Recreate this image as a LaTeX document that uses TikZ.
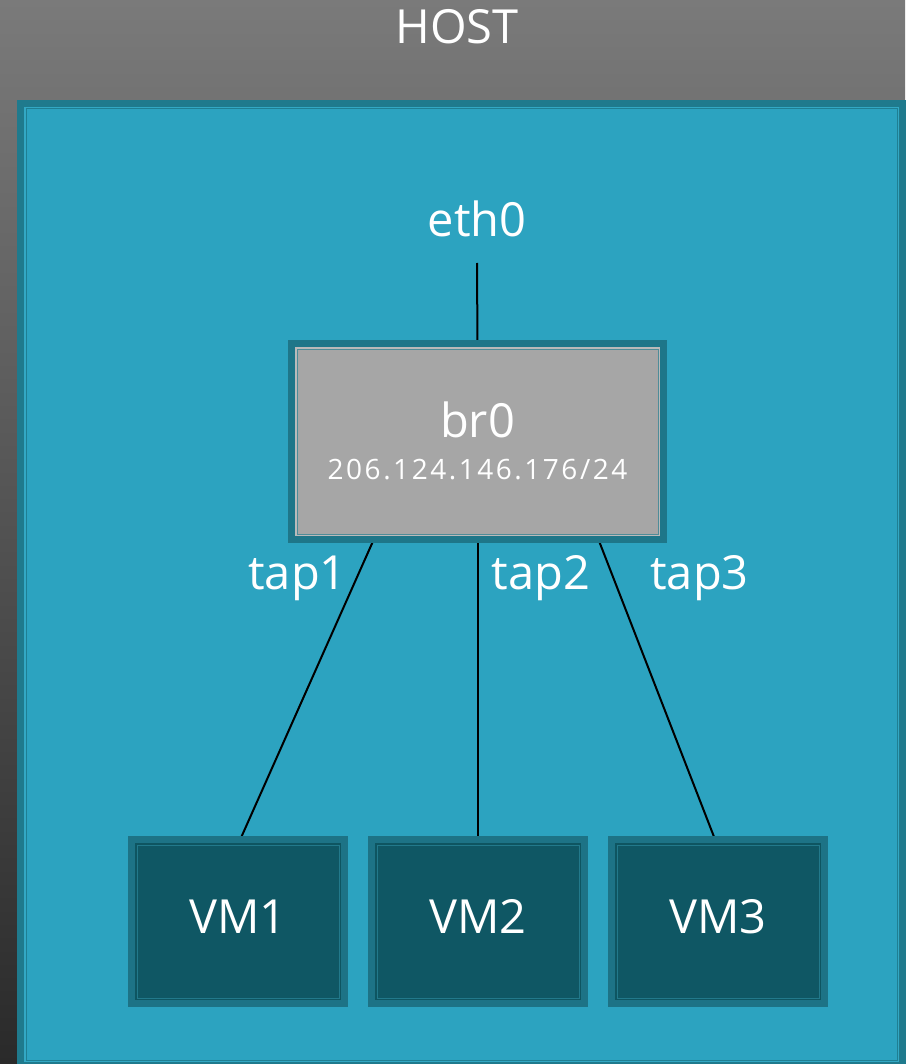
\documentclass[tikz,border=0pt]{standalone}
\usepackage{fontspec}
\setmainfont{Open Sans}
\newcommand\bigtxt{\fontsize{47}{55}\selectfont}
\newcommand\iptxt{\fontsize{28}{34}\selectfont\addfontfeatures{LetterSpace=9}}
\pgfdeclarelayer{back}
\pgfdeclarelayer{wires}
\pgfsetlayers{back,wires,main}
\definecolor{bgtop}{HTML}{7A7A7A}
\definecolor{bgmid}{HTML}{4C4C4C}
\definecolor{bgbot}{HTML}{2A2A2A}
\definecolor{tealborder}{HTML}{1F7A8D}
\definecolor{tealband}{HTML}{33A8C4}
\definecolor{tealline}{HTML}{1F7F93}
\definecolor{tealfill}{HTML}{2CA3C0}
\definecolor{brborder}{HTML}{1E7689}
\definecolor{brband}{HTML}{BABABA}
\definecolor{brline}{HTML}{4E8C98}
\definecolor{brfill}{HTML}{A6A6A6}
\definecolor{vmborder}{HTML}{1D7386}
\definecolor{vmband}{HTML}{0E5561}
\definecolor{vmline}{HTML}{22798B}
\definecolor{vmfill}{HTML}{0F5764}
\begin{document}
\begin{tikzpicture}[x=1pt,y=-1pt,
  layered/.style n args={4}{inner sep=0pt, fill=#4, draw=#3, line width=1pt,
    preaction={draw=#1, line width=18pt},
    preaction={draw=#2, line width=4pt}},
  panelbox/.style={layered={tealborder}{tealband}{tealline}{tealfill},
    minimum width=871pt, minimum height=951pt},
  bridgebox/.style={layered={brborder}{brband}{brline}{brfill},
    minimum width=361pt, minimum height=185pt},
  vmbox/.style={layered={vmborder}{vmband}{vmline}{vmfill},
    minimum width=202pt, minimum height=153pt, text=white, font=\bigtxt,
    text depth=10pt},
  label/.style={anchor=base, inner sep=0pt, text=white, font=\bigtxt},
  iplabel/.style={anchor=base, inner sep=0pt, text=white, font=\iptxt},
  wire/.style={draw=black, line width=2pt}]
\useasboundingbox (0,0) rectangle (905,1064);
\clip (0,0) rectangle (905,1064);
\begin{pgfonlayer}{back}
  \shade[top color=bgtop, middle color=bgmid, bottom color=bgbot] (0,0) rectangle (905,1064);
  \node[panelbox] (host) at (461.5,584.5) {};
\end{pgfonlayer}
\node[label] (hostlabel) at (457,44) {HOST};
\node[label] (eth0) at (477,237) {eth0};
\node[bridgebox] (br0) at (477.5,441.5) {};
\node[label] (br0name) at (477.5,437) {br0};
\node[iplabel] (br0ip) at (477.5,479) {206.124.146.176/24};
\node[vmbox] (vm1) at (238,921.5) {VM1};
\node[vmbox] (vm2) at (478,921.5) {VM2};
\node[vmbox] (vm3) at (718,921.5) {VM3};
\node[label] (tap1) at (297.5,589) {tap1};
\node[label] (tap2) at (541,589) {tap2};
\node[label] (tap3) at (699.5,589) {tap3};
\begin{pgfonlayer}{wires}
  \draw[wire] ([yshift=-26pt]eth0.base) -- (br0.north);
  \draw[wire] ([xshift=-101.5pt]br0.south) -- (vm1.north);
  \draw[wire] ([xshift=0.5pt]br0.south) -- (vm2.north);
  \draw[wire] ([xshift=119pt]br0.south) -- ([xshift=-1pt]vm3.north);
\end{pgfonlayer}
\end{tikzpicture}
\end{document}
